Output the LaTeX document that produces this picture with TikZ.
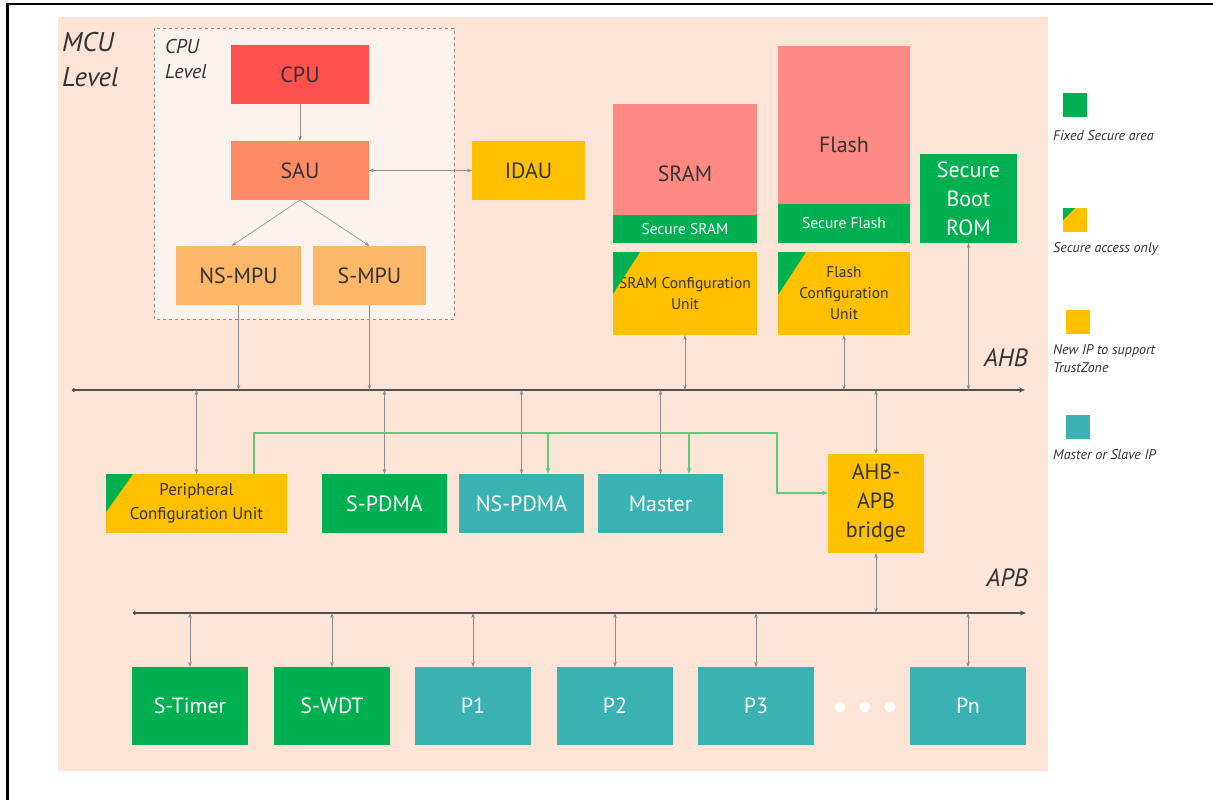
\documentclass[tikz,border=0pt]{standalone}
\usepackage{fontspec}
\setmainfont{PT Sans}
\usetikzlibrary{arrows.meta}
\definecolor{mcubg}{HTML}{FCE4D6}
\definecolor{cpubg}{HTML}{FDF3EE}
\definecolor{cpured}{HTML}{FF5050}
\definecolor{saured}{HTML}{FF8B66}
\definecolor{mpuorange}{HTML}{FDB768}
\definecolor{ipyellow}{HTML}{FFC000}
\definecolor{mempink}{HTML}{FF8A84}
\definecolor{secgreen}{HTML}{00B050}
\definecolor{ipteal}{HTML}{3AB2B4}
\definecolor{darktext}{HTML}{333333}
\definecolor{linkgrey}{HTML}{8C8C8C}
\definecolor{busgrey}{HTML}{505050}
\definecolor{siggreen}{HTML}{5CCB7E}

\begin{document}
\begin{tikzpicture}[x=1pt,y=-1pt,
  blk/.style={anchor=north west,inner sep=0pt,outer sep=0pt,align=center,font=\fontsize{22}{29}\selectfont,text=darktext},
  sblk/.style={blk,font=\fontsize{15.5}{21}\selectfont},
  link/.style={draw=linkgrey,line width=0.6pt,-{Stealth[length=5pt,width=3.5pt]}},
  dlink/.style={link,{Stealth[length=5pt,width=3.5pt]}-{Stealth[length=5pt,width=3.5pt]}},
  bus/.style={draw=busgrey,line width=1.4pt,{Circle[length=3.5pt]}-{Stealth[length=6pt,width=5pt]}},
  sig/.style={draw=siggreen,line width=1.1pt,-{Stealth[length=6pt,width=4.5pt]}},
  lbl/.style={text=darktext,inner sep=0pt,align=left},
  legtxt/.style={anchor=west,inner sep=0pt,font=\fontsize{14}{18}\selectfont\itshape,text=darktext,align=left},
  legbox/.style={anchor=north west,inner sep=0pt,minimum size=24}]
\useasboundingbox (0,0) rectangle (1213,800);
\fill[white] (0,0) rectangle (1213,800);
\draw[black,line width=2.2pt] (7.5,800) -- (7.5,4) -- (1213,4);
\fill[mcubg] (58,17) rectangle (1048,771);
\draw[linkgrey,dashed,fill=cpubg,line width=0.6pt] (154,28) rectangle (454,319);
\node[lbl,anchor=north west,font=\fontsize{27}{35}\selectfont\itshape] (mculbl) at (62,32) {MCU\\Level};
\node[lbl,anchor=north west,font=\fontsize{20}{25}\selectfont\itshape] (cpulbl) at (165,39) {CPU\\Level};

\node[blk,fill=cpured,minimum width=138,minimum height=59] (cpu) at (231,45) {CPU};
\node[blk,fill=saured,minimum width=138,minimum height=59] (sau) at (231,141) {SAU};
\node[blk,fill=mpuorange,minimum width=125,minimum height=59] (nsmpu) at (176,246) {NS-MPU};
\node[blk,fill=mpuorange,minimum width=113,minimum height=59] (smpu) at (313,246) {S-MPU};
\node[blk,fill=ipyellow,minimum width=113,minimum height=59] (idau) at (472,141) {IDAU};

\node[blk,fill=mempink,minimum width=144,minimum height=139] (sram) at (613,104) {SRAM};
\node[sblk,fill=secgreen,text=white,minimum width=144,minimum height=28] (ssram) at (613,215) {Secure SRAM};
\node[sblk,fill=ipyellow,minimum width=144,minimum height=83] (sramcfg) at (613,252) {SRAM Configuration\\Unit};
\fill[secgreen] (sramcfg.north west) -- ++(27,0) -- ++(-27,42) -- cycle;
\node[blk,fill=mempink,minimum width=132,minimum height=197] (flash) at (778,46) {Flash};
\node[sblk,fill=secgreen,text=white,minimum width=132,minimum height=39] (sflash) at (778,204) {Secure Flash};
\node[sblk,fill=ipyellow,minimum width=132,minimum height=83] (flashcfg) at (778,252) {Flash\\Configuration\\Unit};
\fill[secgreen] (flashcfg.north west) -- ++(28,0) -- ++(-28,43) -- cycle;
\node[blk,fill=secgreen,text=white,minimum width=97,minimum height=89] (bootrom) at (920,154) {Secure\\Boot\\ROM};

\node[blk,fill=ipyellow,font=\fontsize{17}{24}\selectfont,minimum width=181,minimum height=59] (pcu) at (106,474) {Peripheral\\Configuration Unit};
\fill[secgreen] (pcu.north west) -- ++(27,0) -- ++(-27,38) -- cycle;
\node[blk,fill=secgreen,text=white,minimum width=125,minimum height=59] (spdma) at (322,474) {S-PDMA};
\node[blk,fill=ipteal,text=white,minimum width=125,minimum height=59] (nspdma) at (459,474) {NS-PDMA};
\node[blk,fill=ipteal,text=white,minimum width=125,minimum height=59] (master) at (598,474) {Master};
\node[blk,fill=ipyellow,minimum width=96,minimum height=99] (bridge) at (828,454) {AHB-\\APB\\bridge};

\node[blk,fill=secgreen,text=white,minimum width=116,minimum height=78] (stimer) at (132,667) {S-Timer};
\node[blk,fill=secgreen,text=white,minimum width=116,minimum height=78] (swdt) at (274,667) {S-WDT};
\node[blk,fill=ipteal,text=white,minimum width=116,minimum height=78] (p1) at (415,667) {P1};
\node[blk,fill=ipteal,text=white,minimum width=116,minimum height=78] (p2) at (557,667) {P2};
\node[blk,fill=ipteal,text=white,minimum width=116,minimum height=78] (p3) at (698,667) {P3};
\node[blk,fill=ipteal,text=white,minimum width=116,minimum height=78] (pn) at (910,667) {Pn};
\fill[white] (840,707) circle (5.5);
\fill[white] (865,707) circle (5.5);
\fill[white] (890,707) circle (5.5);

\node[lbl,anchor=east,font=\fontsize{25}{30}\selectfont\itshape] (ahblbl) at (1028,358) {AHB};
\node[lbl,anchor=east,font=\fontsize{25}{30}\selectfont\itshape] (apblbl) at (1028,578) {APB};
\coordinate (ahbL) at (72,390);
\coordinate (ahbR) at (1025,390);
\coordinate (apbL) at (133,613);
\coordinate (apbR) at (1026,613);
\draw[bus] (ahbL) -- (ahbR);
\draw[bus] (apbL) -- (apbR);

\draw[link] (cpu) -- (sau);
\draw[dlink] (sau) -- (idau);
\draw[link] (sau.south) -- ([xshift=-7]nsmpu.north);
\draw[link] (sau.south) -- (smpu.north);
\draw[link] (nsmpu.south) -- (nsmpu.south |- ahbL);
\draw[link] (smpu.south) -- (smpu.south |- ahbL);
\draw[dlink] (sramcfg.south |- ahbL) -- (sramcfg.south);
\draw[dlink] (flashcfg.south |- ahbL) -- (flashcfg.south);
\draw[dlink] (bootrom.south |- ahbL) -- (bootrom.south);
\draw[dlink] (pcu.north |- ahbL) -- (pcu.north);
\draw[dlink] (spdma.north |- ahbL) -- (spdma.north);
\draw[dlink] (nspdma.north |- ahbL) -- (nspdma.north);
\draw[dlink] (master.north |- ahbL) -- (master.north);
\draw[dlink] (bridge.north |- ahbL) -- (bridge.north);
\draw[dlink] (bridge.south) -- (bridge.south |- apbL);
\draw[dlink] (stimer.north |- apbL) -- (stimer.north);
\draw[dlink] (swdt.north |- apbL) -- (swdt.north);
\draw[dlink] (p1.north |- apbL) -- (p1.north);
\draw[dlink] (p2.north |- apbL) -- (p2.north);
\draw[dlink] (p3.north |- apbL) -- (p3.north);
\draw[dlink] (pn.north |- apbL) -- (pn.north);

\coordinate (gsplit) at (254,433);
\coordinate (gturn) at (777,433);
\coordinate (gbend) at (777,493);
\coordinate (nsdrop) at (548,433);
\coordinate (msdrop) at (689,433);
\draw[sig] (pcu.north -| gsplit) -- (gsplit) -- (gturn) -- (gbend) -- (gbend -| bridge.west);
\draw[sig] (nsdrop) -- (nsdrop |- nspdma.north);
\draw[sig] (msdrop) -- (msdrop |- master.north);

\node[legbox,fill=secgreen] (legfix) at (1063,93) {};
\node[legtxt] (legfixtxt) at (1053,136) {Fixed Secure area};
\node[legbox,fill=ipyellow] (legsec) at (1063,208) {};
\fill[secgreen] (legsec.north west) -- ++(12,0) -- ++(-12,12) -- cycle;
\node[legtxt] (legsectxt) at (1053,249) {Secure access only};
\node[legbox,fill=ipyellow] (legnew) at (1066,310) {};
\node[legtxt] (legnewtxt) at (1053,359) {New IP to support\\TrustZone};
\node[legbox,fill=ipteal] (legms) at (1066,415) {};
\node[legtxt] (legmstxt) at (1053,455) {Master or Slave IP};
\end{tikzpicture}
\end{document}
